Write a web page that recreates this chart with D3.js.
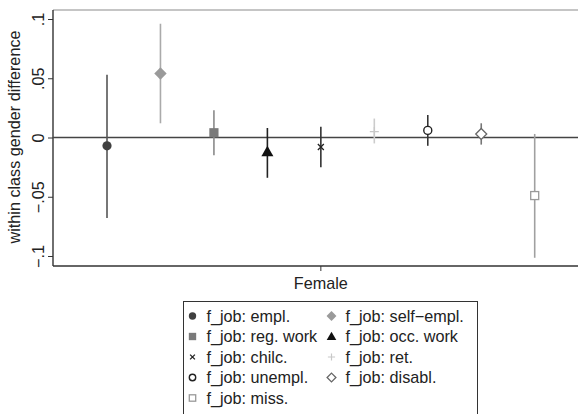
<!DOCTYPE html>
<html>
<head>
<meta charset="utf-8">
<script src="https://cdn.jsdelivr.net/npm/d3@7/dist/d3.min.js"></script>
<style>
  html, body { margin: 0; padding: 0; background: #fff; }
  svg { display: block; font-family: "Liberation Sans", Arial, Helvetica, sans-serif; }
</style>
</head>
<body>
<svg id="chart" width="578" height="414"></svg>
<script>
// Coefficient estimates with 95% confidence intervals, by job category
const categories = ["empl.", "self-empl.", "reg. work", "occ. work", "chilc.", "ret.", "unempl.", "disabl.", "miss."];
const estimates  = [-0.007, 0.054, 0.004, -0.012, -0.008, 0.005, 0.006, 0.003, -0.049];
const ciLower    = [-0.068, 0.012, -0.015, -0.034, -0.025, -0.005, -0.007, -0.006, -0.1015];
const ciUpper    = [0.053, 0.096, 0.023, 0.008, 0.009, 0.016, 0.019, 0.012, 0.003];
const yTicks     = [-0.1, -0.05, 0, 0.05, 0.1];
const yTickLabels = ["\u2212.1", "\u2212.05", "0", ".05", ".1"];
const groupLabel = "Female";
const legendPrefix = "f_job: ";
// legend order (two columns, row-major)
const legendOrder = ["empl.", "self-empl.", "reg. work", "occ. work", "chilc.", "ret.", "unempl.", "disabl.", "miss."];

// marker style per category
const styles = {
  "empl.":      { shape: "circle",   fill: "#404040", stroke: "none",    line: "#555555", size: 4.6 },
  "self-empl.": { shape: "diamond",  fill: "#9a9a9a", stroke: "none",    line: "#aaaaaa", size: 6.2 },
  "reg. work":  { shape: "square",   fill: "#7a7a7a", stroke: "none",    line: "#8a8a8a", size: 4.6 },
  "occ. work":  { shape: "triangle", fill: "#111111", stroke: "none",    line: "#222222", size: 6.0 },
  "chilc.":     { shape: "x",        fill: "none",    stroke: "#222222", line: "#333333", size: 3.0 },
  "ret.":       { shape: "plus",     fill: "none",    stroke: "#c8c8c8", line: "#cccccc", size: 4.5 },
  "unempl.":    { shape: "ocircle",  fill: "none",    stroke: "#222222", line: "#333333", size: 4.0 },
  "disabl.":    { shape: "odiamond", fill: "none",    stroke: "#666666", line: "#777777", size: 5.5 },
  "miss.":      { shape: "osquare",  fill: "none",    stroke: "#999999", line: "#a0a0a0", size: 4.0 }
};

const FONT = 16.2;
const svg = d3.select("#chart");
const W = 578;
const plot = { left: 53, top: 10, bottom: 266 };

const y = d3.scaleLinear().domain([-0.1, 0.1]).range([256, 19]);
const x = d3.scalePoint().domain(categories).range([107, 534.7]);

// plot frame: top border and bottom axis line
svg.append("line").attr("x1", plot.left).attr("x2", W).attr("y1", plot.top).attr("y2", plot.top)
  .attr("stroke", "#8c8c8c").attr("stroke-width", 1.2);
svg.append("line").attr("x1", plot.left).attr("x2", W).attr("y1", plot.bottom).attr("y2", plot.bottom)
  .attr("stroke", "#333").attr("stroke-width", 1.6);

// y axis with rotated tick labels
const yAxis = d3.axisLeft(y).tickValues(yTicks).tickSize(5).tickPadding(4)
  .tickFormat((d, i) => yTickLabels[i]);
const gy = svg.append("g").attr("transform", `translate(${plot.left},0)`).call(yAxis);
gy.select(".domain").attr("d", `M0,${plot.top}V${plot.bottom}`).attr("stroke", "#333").attr("stroke-width", 1.4);
gy.selectAll(".tick line").attr("stroke", "#333").attr("stroke-width", 1);
gy.selectAll(".tick text")
  .attr("font-size", FONT).attr("fill", "#222")
  .attr("text-anchor", "middle")
  .attr("x", 0).attr("y", 0).attr("dy", null)
  .attr("transform", "translate(-9,0) rotate(-90)");

// axis title
svg.append("text")
  .attr("transform", `translate(20,${(plot.top + plot.bottom) / 2 - 1}) rotate(-90)`)
  .attr("text-anchor", "middle").attr("font-size", FONT).attr("fill", "#222")
  .text("within class gender difference");

// x axis: single group tick at the middle category
const xMid = x(categories[Math.floor(categories.length / 2)]);
svg.append("line").attr("x1", xMid).attr("x2", xMid).attr("y1", plot.bottom).attr("y2", plot.bottom + 5)
  .attr("stroke", "#333").attr("stroke-width", 1);
svg.append("text").attr("x", xMid).attr("y", 288.5).attr("text-anchor", "middle")
  .attr("font-size", FONT).attr("fill", "#222").text(groupLabel);

// reference line at zero
svg.append("line").attr("x1", plot.left).attr("x2", W).attr("y1", y(0)).attr("y2", y(0))
  .attr("stroke", "#444").attr("stroke-width", 1.3);

function drawMarker(g, st, cx, cy) {
  const s = st.size;
  switch (st.shape) {
    case "circle":
      g.append("circle").attr("cx", cx).attr("cy", cy).attr("r", s).attr("fill", st.fill); break;
    case "ocircle":
      g.append("circle").attr("cx", cx).attr("cy", cy).attr("r", s).attr("fill", "#fff")
        .attr("stroke", st.stroke).attr("stroke-width", 1.4); break;
    case "square":
      g.append("rect").attr("x", cx - s).attr("y", cy - s).attr("width", 2 * s).attr("height", 2 * s).attr("fill", st.fill); break;
    case "osquare":
      g.append("rect").attr("x", cx - s).attr("y", cy - s).attr("width", 2 * s).attr("height", 2 * s)
        .attr("fill", "#fff").attr("stroke", st.stroke).attr("stroke-width", 1.3); break;
    case "diamond":
      g.append("path").attr("d", `M${cx},${cy - s}L${cx + s},${cy}L${cx},${cy + s}L${cx - s},${cy}Z`).attr("fill", st.fill); break;
    case "odiamond":
      g.append("path").attr("d", `M${cx},${cy - s}L${cx + s},${cy}L${cx},${cy + s}L${cx - s},${cy}Z`)
        .attr("fill", "#fff").attr("stroke", st.stroke).attr("stroke-width", 1.3); break;
    case "triangle":
      g.append("path").attr("d", `M${cx},${cy - s}L${cx + s},${cy + s * 0.75}L${cx - s},${cy + s * 0.75}Z`).attr("fill", st.fill); break;
    case "x":
      g.append("path").attr("d", `M${cx - s},${cy - s}L${cx + s},${cy + s}M${cx - s},${cy + s}L${cx + s},${cy - s}`)
        .attr("stroke", st.stroke).attr("stroke-width", 1.3); break;
    case "plus":
      g.append("path").attr("d", `M${cx - s},${cy}L${cx + s},${cy}M${cx},${cy - s}L${cx},${cy + s}`)
        .attr("stroke", st.stroke).attr("stroke-width", 1.2); break;
  }
}

// confidence intervals and point estimates
const marks = svg.append("g");
categories.forEach((c, i) => {
  const st = styles[c];
  const g = marks.append("g");
  g.append("line").attr("x1", x(c)).attr("x2", x(c)).attr("y1", y(ciLower[i])).attr("y2", y(ciUpper[i]))
    .attr("stroke", st.line).attr("stroke-width", 1.6);
  drawMarker(g, st, x(c), y(estimates[i]));
});

// legend
const leg = svg.append("g");
leg.append("rect").attr("x", 183.5).attr("y", 301.5).attr("width", 294).attr("height", 130)
  .attr("fill", "#fff").attr("stroke", "#333").attr("stroke-width", 1);
const colX = [192.5, 331.5];
const rowY0 = 316, rowStep = 20.5;
legendOrder.forEach((c, i) => {
  const col = i % 2, row = Math.floor(i / 2);
  const cx = colX[col], cy = rowY0 + row * rowStep;
  const st = styles[c];
  const legSt = Object.assign({}, st, { size: st.size * 0.8 });
  drawMarker(leg, legSt, cx, cy);
  leg.append("text").attr("x", cx + 14).attr("y", cy + 5.5)
    .attr("font-size", FONT).attr("fill", "#222").text(legendPrefix + c.replace("-", "\u2212"));
});
</script>
</body>
</html>
